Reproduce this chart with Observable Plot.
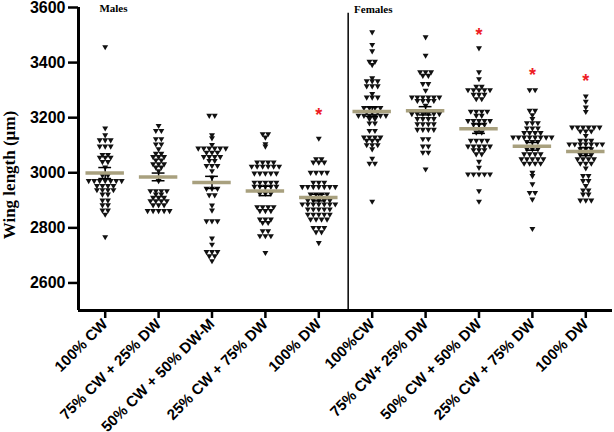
<!DOCTYPE html>
<html><head><meta charset="utf-8">
<script src="https://cdn.jsdelivr.net/npm/d3@7"></script>
<script src="https://cdn.jsdelivr.net/npm/@observablehq/plot@0.6"></script>
<style>body{margin:0;background:#fff}</style>
</head><body><div id="chart"></div>
<script>
const groups = ["100% CW", "75% CW + 25% DW", "50% CW + 50% DW-M", "25% CW + 75% DW", "100% DW",
                "100%CW", "75% CW+ 25% DW", "50% CW + 50% DW", "25% CW + 75% DW", "100% DW"];
const yTicks = [2600, 2800, 3000, 3200, 3400, 3600];

const males100CW = [3457, 3162, 3137, 3119, 3119, 3119, 3096, 3096, 3096, 3066, 3066, 3056, 3056, 3056, 3040, 3040, 3020,
  2991, 2991, 2971, 2971, 2971, 2971, 2971, 2971, 2971, 2953, 2953, 2953, 2953, 2938, 2938, 2938, 2938, 2922, 2922,
  2900, 2900, 2883, 2883, 2864, 2864, 2849, 2767];
const males75CW = [3171, 3153, 3153, 3123, 3123, 3104, 3104, 3086, 3070, 3070, 3058, 3058, 3058, 3046, 3046, 3032, 3032, 3032,
  3020, 3020, 3007, 2971, 2934, 2934, 2934, 2934, 2922, 2922, 2910, 2910, 2910, 2898, 2898, 2898, 2898, 2883, 2883, 2883,
  2862, 2862, 2862, 2862, 2862];
const males50CW = [3208, 3208, 3137, 3126, 3102, 3089, 3089, 3089, 3089, 3089, 3089, 3074, 3074, 3074, 3058, 3058, 3058, 3058,
  3044, 3044, 3026, 3026, 3026, 3007, 2983, 2943, 2943, 2943, 2919, 2919, 2882, 2864, 2825, 2825, 2825, 2762, 2740,
  2713, 2713, 2713, 2698, 2698, 2680];
const males25CW = [3141, 3141, 3129, 3105, 3096, 3038, 3038, 3038, 3038, 3023, 3023, 3023, 3023, 3023, 3023, 2998, 2998, 2998,
  2998, 2998, 2965, 2965, 2965, 2965, 2965, 2950, 2950, 2950, 2950, 2950, 2925, 2925, 2925, 2876, 2876, 2876, 2876,
  2862, 2862, 2862, 2831, 2831, 2831, 2819, 2819, 2789, 2789, 2771, 2771, 2771, 2710];
const males100DW = [3125, 3050, 3050, 3038, 3038, 3038, 3001, 3001, 3001, 3001, 2965, 2965, 2965, 2949, 2949, 2949, 2949, 2949,
  2949, 2949, 2922, 2922, 2922, 2922, 2900, 2900, 2900, 2900, 2900, 2886, 2886, 2886, 2886, 2886, 2886, 2886, 2868, 2868,
  2868, 2868, 2868, 2849, 2849, 2849, 2849, 2849, 2831, 2831, 2831, 2831, 2801, 2801, 2801, 2785, 2785, 2746];
const females100CW = [3511, 3465, 3442, 3404, 3404, 3392, 3344, 3333, 3333, 3333, 3315, 3315, 3315, 3287, 3274, 3274, 3274,
  3236, 3236, 3236, 3236, 3220, 3220, 3220, 3208, 3208, 3208, 3208, 3208, 3208, 3196, 3196, 3180, 3180, 3153, 3153,
  3129, 3129, 3129, 3129, 3117, 3117, 3117, 3101, 3101, 3101, 3086, 3052, 3034, 3034, 2896];
const females75CW = [3493, 3426, 3366, 3366, 3366, 3353, 3353, 3323, 3323, 3299, 3274, 3274, 3274, 3274, 3274, 3274, 3262, 3262,
  3262, 3262, 3244, 3214, 3214, 3214, 3214, 3214, 3214, 3196, 3196, 3196, 3196, 3177, 3177, 3177, 3177, 3157, 3157,
  3157, 3157, 3123, 3123, 3096, 3096, 3074, 3074, 3013];
const females50CW = [3453, 3366, 3341, 3313, 3313, 3301, 3301, 3301, 3301, 3301, 3284, 3284, 3284, 3268, 3268, 3223, 3223, 3223,
  3223, 3208, 3208, 3189, 3189, 3189, 3189, 3189, 3175, 3175, 3175, 3147, 3147, 3117, 3117, 3117, 3117, 3096, 3096,
  3096, 3096, 3096, 3083, 3083, 3083, 3068, 3068, 3041, 3019, 2995, 2995, 2995, 2995, 2995, 2934, 2896];
const females25CW = [3301, 3301, 3226, 3226, 3210, 3196, 3181, 3181, 3181, 3162, 3162, 3162, 3145, 3145, 3145, 3145, 3129, 3129,
  3129, 3129, 3129, 3129, 3129, 3129, 3113, 3113, 3113, 3086, 3086, 3086, 3068, 3068, 3068, 3068, 3050, 3050, 3050,
  3050, 3050, 3034, 3034, 3034, 3034, 3001, 2989, 2959, 2928, 2928, 2904, 2797];
const females100DW = [3278, 3259, 3238, 3222, 3165, 3165, 3165, 3165, 3165, 3165, 3151, 3151, 3151, 3135, 3117, 3117, 3117,
  3104, 3104, 3104, 3104, 3104, 3104, 3104, 3086, 3086, 3086, 3066, 3066, 3066, 3050, 3050, 3050, 3050, 3034, 3034,
  3034, 3017, 2989, 2989, 2971, 2971, 2953, 2937, 2937, 2922, 2922, 2900, 2900, 2900];

const means = [2999, 2985, 2965, 2934, 2910, 3222, 3225, 3160, 3096, 3077];
const sems = [20, 14, 22, 17, 12, 17, 15, 17, 14, 15];

const starGroups = [4, 7, 8, 9];
const starValues = [3222, 3513, 3368, 3346];

const titleText = ["Males", "Females"];
const titleX = [0.155, 5.02];
const titleY = [3596, 3594];

const groupValues = [males100CW, males75CW, males50CW, males25CW, males100DW,
  females100CW, females75CW, females50CW, females25CW, females100DW];

// scatter-dot layout: points sharing a value sit side by side in a row
const points = [];
groupValues.forEach((vals, gi) => {
  const counts = d3.rollup(vals, v => v.length, d => d);
  const seen = new Map();
  vals.forEach(v => {
    const k = counts.get(v), j = seen.get(v) || 0;
    seen.set(v, j + 1);
    points.push({g: gi, x: gi + (j - (k - 1) / 2) * 0.103, y: v});
  });
});
const stats = means.map((m, i) => ({g: i, mean: m, lo: m - sems[i], hi: m + sems[i]}));
const stars = starGroups.map((g, i) => ({g, v: starValues[i]}));
const titles = titleText.map((t, i) => ({t, x: titleX[i], y: titleY[i]}));

const serif = "'Liberation Serif', 'Times New Roman', serif";

const chart = Plot.plot({
  width: 614, height: 432,
  marginLeft: 78, marginRight: 2, marginTop: 7, marginBottom: 122,
  x: {domain: [-0.5, 9.5]},
  y: {domain: [2500, 3600]},
  style: {fontFamily: "'Liberation Sans', Arial, sans-serif", fontWeight: "bold", background: "#fff", color: "#000", overflow: "visible"},
  marks: [
    Plot.axisY({ticks: yTicks, tickFormat: d => String(d), tickSize: 10, tickPadding: 3, fontSize: 16, strokeWidth: 2.5, label: null}),
    Plot.axisX({ticks: d3.range(10), tickFormat: i => groups[i], tickRotate: -45, tickSize: 8, tickPadding: 3, fontSize: 15, strokeWidth: 2.5, label: null}),
    Plot.ruleX([-0.5], {y1: 2500, y2: 3600, strokeWidth: 3}),
    Plot.ruleY([2500], {x1: -0.5, x2: 9.5, strokeWidth: 3}),
    Plot.ruleX([4.55], {y1: 2500, y2: 3579, strokeWidth: 1.5}),
    Plot.dot(points, {x: "x", y: "y", symbol: "triangle", rotate: 180, r: 2.2, fill: "#111", stroke: null}),
    Plot.ruleY(stats, {y: "hi", x1: d => d.g - 0.12, x2: d => d.g + 0.12, strokeWidth: 1.5}),
    Plot.ruleY(stats, {y: "lo", x1: d => d.g - 0.12, x2: d => d.g + 0.12, strokeWidth: 1.5}),
    Plot.ruleX(stats, {x: "g", y1: "lo", y2: "hi", strokeWidth: 1.5}),
    Plot.ruleY(stats, {y: "mean", x1: d => d.g - 0.36, x2: d => d.g + 0.36, stroke: "#a8a07e", strokeWidth: 3.5}),
    Plot.text(stars, {x: "g", y: "v", text: d => "*", fill: "#ee1c24", fontSize: 18, lineAnchor: "middle", dy: 4}),
    Plot.text(titles, {x: "x", y: "y", text: "t", fontFamily: serif, fontSize: 11, lineAnchor: "middle", textAnchor: "middle"}),
    Plot.text(["Wing length (µm)"], {frameAnchor: "left", rotate: -90, dx: -69, dy: 16, textAnchor: "middle", lineAnchor: "middle", fontFamily: serif, fontSize: 17})
  ]
});
document.getElementById("chart").appendChild(chart);
</script>
</body></html>
